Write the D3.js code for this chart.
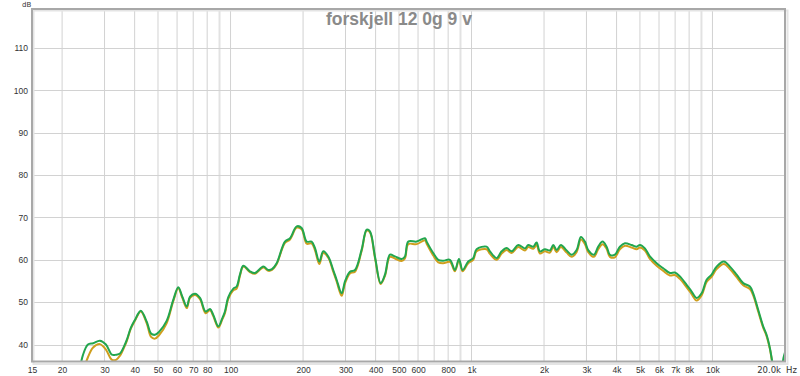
<!DOCTYPE html>
<html>
<head>
<meta charset="utf-8">
<script src="https://cdn.jsdelivr.net/npm/d3@7"></script>
<style>
  body { margin: 0; background: #fff; }
  svg { display: block; }
</style>
</head>
<body>
<div id="chart"></div>
<script>
// measured response, frequencies in Hz, levels in dB
const freqs = [23.5, 24.4, 25.6, 26.9, 28.7, 30.4, 32.2, 33.5, 34.8, 36.1, 37.1, 38.6, 40.1, 42.4, 44.9, 46.8, 48.6, 50.5, 54.3, 57.9,
  60.7, 63.1, 65.8, 67.9, 71.2, 74.7, 78.8, 82.2, 84.8, 89.0, 92.4, 94.8, 97.9, 102.7, 106, 109.4, 113, 120.4, 126.3, 136.8,
  143.4, 148.6, 155.4, 168.2, 176.5, 188.2, 197.3, 207, 217, 224, 233.6, 242.6, 254.4, 266.8, 275.6, 289.2, 298.5, 313, 328.4, 350,
  367.2, 379, 397.5, 419.8, 437.4, 458.7, 481.2, 513, 529.5, 546.5, 592.3, 641, 651.5, 693.8, 727.8, 763.4, 813.7, 853.6, 887, 918.8,
  969.3, 1016.6, 1050, 1155, 1193, 1272, 1334, 1399, 1467, 1563, 1667, 1719, 1804, 1863, 1923, 2017, 2117, 2185, 2257, 2350,
  2482, 2603, 2730, 2845, 2956, 3051, 3222, 3357, 3500, 3636, 3753, 3937, 4129, 4332, 4619, 4844, 5000, 5244, 5500, 5866,
  6246, 6661, 6984, 7326, 7812, 8195, 8593, 9014, 9456, 9918, 10403, 11157, 11814, 12597, 13416, 14301, 14760, 15480, 16234, 16770,
  17307, 17697, 18332, 19230, 19700, 20000];

const greenDb = [33, 37.5, 40.0, 40.3, 40.9, 40.0, 37.6, 37.6, 37.9, 39.5, 41.1, 44.0, 45.8, 48.0, 45.4, 42.6, 42.3, 43.0, 45.6, 50.6,
  53.5, 51.3, 49.0, 51.3, 52.0, 51.0, 47.8, 48.4, 47.0, 44.3, 46.2, 47.8, 51.2, 53.2, 53.7, 56.5, 58.6, 57.3, 56.9, 58.4,
  57.6, 57.8, 59.2, 64.3, 65.1, 67.9, 67.5, 64.3, 64.3, 62.8, 59.6, 62.0, 60.8, 57.6, 55.3, 52.1, 54.9, 57.2, 57.6, 62.4,
  67.1, 66.7, 60.8, 54.5, 56.5, 61.2, 60.8, 60.2, 60.8, 64.3, 64.3, 65.1, 64.3, 61.6, 60.0, 59.8, 60.0, 57.6, 60.2, 57.6,
  59.6, 60.4, 62.5, 63.1, 62.0, 60.4, 62.0, 62.8, 62.0, 63.5, 62.7, 63.5, 63.1, 64.1, 62.0, 62.5, 62.2, 63.5, 62.3, 63.5,
  62.2, 61.2, 62.3, 65.4, 64.3, 62.3, 61.2, 63.1, 64.3, 63.1, 61.2, 61.2, 63.1, 63.9, 63.5, 63.1, 63.5, 62.7, 60.8, 59.2,
  58.0, 56.9, 57.0, 56.1, 54.1, 52.5, 51.0, 52.1, 55.3, 56.5, 58.4, 59.6, 58.4, 56.5, 54.5, 53.7, 52.1, 48.2, 44.3, 42.3,
  39.2, 36.0, 31, 33, 36.8, 38.2];

const orangeDb = [30, 33.5, 37.0, 39.3, 40.1, 38.8, 36.4, 36.4, 37.4, 39.2, 40.8, 43.8, 45.6, 47.8, 45.0, 41.8, 41.4, 42.2, 45.0, 50.3,
  53.3, 51.0, 48.6, 51.0, 51.7, 50.7, 47.4, 48.1, 46.7, 44.0, 45.9, 47.4, 50.8, 52.8, 53.2, 56.2, 58.4, 57.1, 56.7, 58.2,
  57.4, 57.6, 59.0, 64.0, 64.8, 67.6, 67.2, 63.8, 63.9, 62.3, 59.0, 61.6, 60.5, 57.2, 54.9, 51.5, 54.4, 56.8, 57.2, 62.1,
  66.9, 66.5, 60.5, 54.3, 56.2, 60.7, 60.3, 59.7, 60.3, 63.7, 63.7, 64.6, 63.8, 61.0, 59.4, 59.2, 59.5, 57.3, 59.9, 57.3,
  59.2, 60.0, 62.0, 62.5, 61.4, 60.0, 61.5, 62.3, 61.6, 63.0, 62.2, 63.0, 62.6, 63.5, 61.5, 62.0, 61.7, 63.0, 61.8, 63.0,
  61.7, 60.7, 61.8, 64.8, 63.7, 61.8, 60.7, 62.5, 63.7, 62.6, 60.7, 60.6, 62.5, 63.3, 62.9, 62.5, 62.9, 62.2, 60.2, 58.6,
  57.4, 56.3, 56.4, 55.5, 53.5, 51.9, 50.4, 51.6, 54.8, 56.0, 57.8, 59.0, 57.8, 55.9, 54.0, 53.1, 51.6, 47.8, 44.0, 42.0,
  39.0, 35.8, 31, 32, 35, 36];

const gridFreqs = [20, 30, 40, 50, 60, 70, 80, 90, 100, 200, 300, 400, 500, 600, 700, 800, 900,
  1000, 2000, 3000, 4000, 5000, 6000, 7000, 8000, 9000, 10000];
const xTickValues = [15, 20, 30, 40, 50, 60, 70, 80, 100, 200, 300, 400, 500, 600, 800,
  1000, 2000, 3000, 4000, 5000, 6000, 7000, 8000, 10000];
const xTickLabels = ["15", "20", "30", "40", "50", "60", "70", "80", "100", "200", "300", "400", "500", "600", "800",
  "1k", "2k", "3k", "4k", "5k", "6k", "7k", "8k", "10k"];
const yTicks = [40, 50, 60, 70, 80, 90, 100, 110];

const W = 800, H = 376;
const margin = { top: 9, right: 15, bottom: 14.5, left: 32 };
const width = W - margin.left - margin.right;
const height = H - margin.top - margin.bottom;

const svg = d3.select("#chart").append("svg")
  .attr("width", W)
  .attr("height", H)
  .style("font-family", "'DejaVu Sans', sans-serif");

const g = svg.append("g")
  .attr("transform", "translate(" + margin.left + "," + margin.top + ")");

const x = d3.scaleLog().domain([15, 20000]).range([0, width]);
const y = d3.scaleLinear().domain([36, 119.2]).range([height, 0]);

// vertical grid
g.append("g")
  .selectAll("line")
  .data(gridFreqs)
  .enter().append("line")
  .attr("x1", d => x(d)).attr("x2", d => x(d))
  .attr("y1", 0).attr("y2", height)
  .attr("stroke", d => (d === 90 || d === 900 || d === 9000) ? "#e2e2e2" : "#d2d2d2")
  .attr("stroke-width", d => (d === 90 || d === 900 || d === 9000) ? 2 : 1);

// horizontal grid
g.append("g")
  .selectAll("line")
  .data(yTicks)
  .enter().append("line")
  .attr("x1", 0).attr("x2", width)
  .attr("y1", d => Math.round(y(d)) + 0.5).attr("y2", d => Math.round(y(d)) + 0.5)
  .attr("stroke", "#d2d2d2");

// x axis labels
const xAxis = g.append("g")
  .attr("transform", "translate(0," + height + ")")
  .call(d3.axisBottom(x).tickValues(xTickValues).tickSize(0).tickPadding(5)
    .tickFormat((d, i) => xTickLabels[i]));
xAxis.select(".domain").remove();
xAxis.selectAll("text").attr("fill", "#333").style("font-size", "8.5px");

g.append("text")
  .attr("x", width - 4).attr("y", height + 11)
  .attr("text-anchor", "end")
  .attr("fill", "#333").style("font-size", "8.5px")
  .text("20.0k");
g.append("text")
  .attr("x", width + 1).attr("y", height + 11)
  .attr("fill", "#333").style("font-size", "8.5px")
  .text("Hz");

// y axis labels
const yAxis = g.append("g")
  .call(d3.axisLeft(y).tickValues(yTicks).tickSize(0).tickPadding(4));
yAxis.select(".domain").remove();
yAxis.selectAll("text").attr("fill", "#333").style("font-size", "8.5px");

svg.append("text")
  .attr("x", 22).attr("y", 7)
  .attr("fill", "#333").style("font-size", "7px")
  .text("dB");

// title
svg.append("text")
  .attr("x", 399).attr("y", 25)
  .attr("text-anchor", "middle")
  .attr("fill", "#8a8a8a")
  .style("font-family", "'Liberation Sans', Arial, sans-serif")
  .style("font-weight", "bold")
  .style("font-size", "17.5px")
  .text("forskjell 12 0g 9 v");

// traces
svg.append("clipPath").attr("id", "plotClip")
  .append("rect").attr("width", width).attr("height", height);

const line = d3.line()
  .x(d => x(d[0]))
  .y(d => y(d[1]))
  .curve(d3.curveCatmullRom.alpha(0.5));

const traces = g.append("g").attr("clip-path", "url(#plotClip)");
traces.append("path")
  .datum(freqs.map((f, i) => [f, orangeDb[i]]))
  .attr("fill", "none")
  .attr("stroke", "#cf9f1e")
  .attr("stroke-width", 2)
  .attr("d", line);
traces.append("path")
  .datum(freqs.map((f, i) => [f, greenDb[i]]))
  .attr("fill", "none")
  .attr("stroke", "#22a64e")
  .attr("stroke-width", 2)
  .attr("d", line);

// frame
g.append("rect")
  .attr("x", 1.5).attr("y", 1.5)
  .attr("width", width + 1).attr("height", height + 1)
  .attr("fill", "none").attr("stroke", "#e4e4e4").attr("stroke-width", 2);
g.append("rect")
  .attr("x", 0).attr("y", 0)
  .attr("width", width).attr("height", height)
  .attr("fill", "none").attr("stroke", "#a8a8a8").attr("stroke-width", 2);
</script>
</body>
</html>
